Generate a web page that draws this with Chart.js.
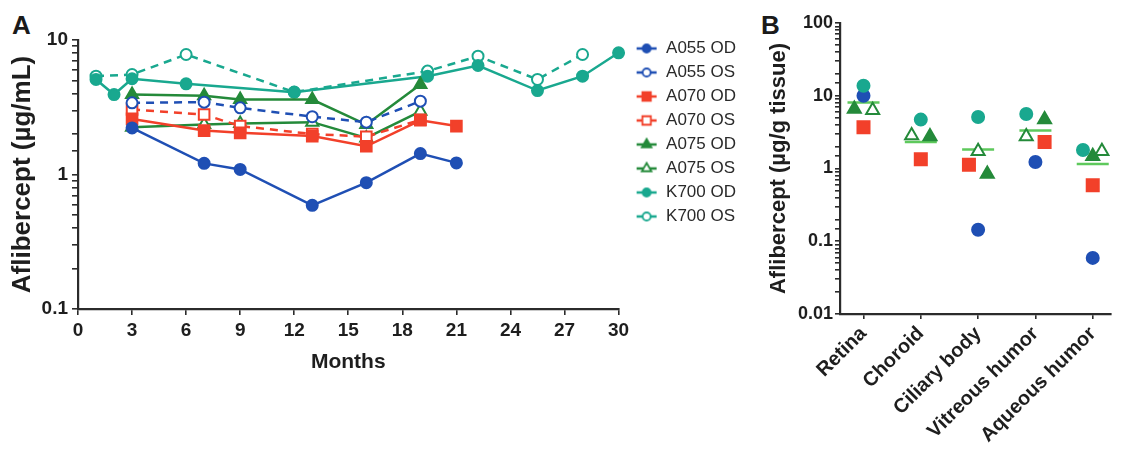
<!DOCTYPE html>
<html>
<head>
<meta charset="utf-8">
<title>Aflibercept</title>
<script src="https://cdn.jsdelivr.net/npm/chart.js@4.4.1/dist/chart.umd.min.js"></script>
<style>
    html, body { margin: 0; padding: 0; background: #fff; }
    body { position: relative; width: 1129px; height: 453px; overflow: hidden; font-family: 'Liberation Sans', Arial, sans-serif; }
    .panel-letter { position: absolute; top: 12px; font-size: 26px; font-weight: bold; color: #1a1a1a; line-height: 1; }
    canvas { position: absolute; top: 0; }
</style>
</head>
<body>
<div class="panel-letter" style="left: 12px;">A</div>
<div class="panel-letter" style="left: 761px;">B</div>
<canvas id="chart-a" width="760" height="453" style="left: 0;"></canvas>
<canvas id="chart-b" width="369" height="453" style="left: 760px;"></canvas>
<script>
// Panel A: aflibercept over time, per animal and eye
const a055OdMonths = [3, 7, 9, 13, 16, 19, 21];
const a055OdValues = [2.22, 1.21, 1.09, 0.59, 0.87, 1.43, 1.22];
const a055OsMonths = [3, 7, 9, 13, 16, 19];
const a055OsValues = [3.41, 3.45, 3.13, 2.69, 2.45, 3.51];

const a070OdMonths = [3, 7, 9, 13, 16, 19, 21];
const a070OdValues = [2.59, 2.12, 2.04, 1.93, 1.62, 2.53, 2.29];
const a070OsMonths = [3, 7, 9, 13, 16, 19];
const a070OsValues = [3.04, 2.79, 2.29, 2.0, 1.91, 2.55];

const a075OdMonths = [3, 7, 9, 13, 16, 19];
const a075OdValues = [3.93, 3.85, 3.61, 3.61, 2.35, 4.67];
const a075OsMonths = [3, 7, 9, 13, 16, 19];
const a075OsValues = [2.25, 2.35, 2.39, 2.45, 1.87, 2.95];

const k700OdMonths = [1, 2, 3, 6, 12, 19.4, 22.2, 25.5, 28, 30];
const k700OdValues = [5.09, 3.93, 5.15, 4.72, 4.09, 5.38, 6.46, 4.21, 5.38, 8.03];
const k700OsMonths = [1, 3, 6, 12, 19.4, 22.2, 25.5, 28];
const k700OsValues = [5.38, 5.54, 7.8, 4.1, 5.87, 7.58, 5.09, 7.8];

const monthTicks = [0, 3, 6, 9, 12, 15, 18, 21, 24, 27, 30];

// Panel B: tissue levels
const tissues = ['Retina', 'Choroid', 'Ciliary body', 'Vitreous humor', 'Aqueous humor'];
const k700Tissue = [13.7, 4.7, 5.1, 5.6, 1.8];
const a055Tissue = [10, null, 0.144, 1.23, 0.059];
const a070Tissue = [3.7, 1.34, 1.13, 2.31, 0.59];
const a075OdTissue = [6.6, 2.76, 0.84, 4.7, 1.47];
const a075OsTissue = [6.3, 2.85, 1.72, 2.76, 1.72];
const meanTissue = [8.1, 2.31, 1.82, 3.34, 1.15];

// horizontal spread of the dots inside a tissue column (category units)
const k700Spread = [0, 0, 0, -0.16, -0.17];
const a055Spread = [0, 0, 0, 0, 0];
const a070Spread = [0, 0, -0.16, 0.16, 0];
const a075OdSpread = [-0.16, 0.16, 0.16, 0.16, 0];
const a075OsSpread = [0.16, -0.16, 0, -0.16, 0.16];

const BLUE = '#1f4fb4';
const RED = '#f2402a';
const GREEN = '#248a3a';
const TEAL = '#19a88f';
const MEAN_GREEN = '#5ec95c';
const AXIS = '#2b2b2b';
const TEXT = '#1e1e1e';
const FONT = "'Liberation Sans', Arial, sans-serif";

const timelineSeries = [
    { label: 'A055 OD', months: a055OdMonths, values: a055OdValues, color: BLUE, shape: 'circle', open: false, dashed: false },
    { label: 'A055 OS', months: a055OsMonths, values: a055OsValues, color: BLUE, shape: 'circle', open: true, dashed: true },
    { label: 'A070 OD', months: a070OdMonths, values: a070OdValues, color: RED, shape: 'rect', open: false, dashed: false },
    { label: 'A070 OS', months: a070OsMonths, values: a070OsValues, color: RED, shape: 'rect', open: true, dashed: true },
    { label: 'A075 OD', months: a075OdMonths, values: a075OdValues, color: GREEN, shape: 'triangle', open: false, dashed: false },
    { label: 'A075 OS', months: a075OsMonths, values: a075OsValues, color: GREEN, shape: 'triangle', open: true, dashed: false },
    { label: 'K700 OD', months: k700OdMonths, values: k700OdValues, color: TEAL, shape: 'circle', open: false, dashed: false },
    { label: 'K700 OS', months: k700OsMonths, values: k700OsValues, color: TEAL, shape: 'circle', open: true, dashed: true }
];

function markerSize(shape) {
    switch (shape) {
        case 'rect':
            return 7.5;
        case 'triangle':
            return 7;
        default:
            return 5.5;
    }
}

function drawMarker(ctx, shape, r, x, y) {
    ctx.beginPath();
    if (shape === 'rect') {
        const h = r * Math.SQRT1_2;
        ctx.rect(x - h, y - h, 2 * h, 2 * h);
    } else if (shape === 'triangle') {
        ctx.moveTo(x, y - r);
        ctx.lineTo(x + r * 0.866, y + r / 2);
        ctx.lineTo(x - r * 0.866, y + r / 2);
        ctx.closePath();
    } else {
        ctx.arc(x, y, r, 0, Math.PI * 2);
    }
    ctx.fill();
    ctx.stroke();
}

// legend icon = short line with the marker on it
function makeLegendIcon(s) {
    const c = document.createElement('canvas');
    c.width = 22;
    c.height = 16;
    const ctx = c.getContext('2d');
    ctx.strokeStyle = s.color;
    ctx.lineWidth = 2.5;
    ctx.beginPath();
    ctx.moveTo(1, 8);
    ctx.lineTo(21, 8);
    ctx.stroke();
    ctx.fillStyle = s.open ? '#fff' : s.color;
    ctx.lineWidth = 1.8;
    drawMarker(ctx, s.shape, markerSize(s.shape) - 1.5, 11, 8);
    return c;
}

function decadeLabel(value) {
    const l = Math.log10(value);
    if (Math.abs(l - Math.round(l)) > 1e-6) {
        return '';
    }
    return String(+value.toPrecision(6));
}

function axisGrid(tickLength) {
    return {
        display: true,
        drawOnChartArea: false,
        drawTicks: true,
        tickLength: tickLength,
        color: AXIS,
        lineWidth: 1.6
    };
}

const legendIcons = timelineSeries.map(makeLegendIcon);

// move the legend box a bit right and up, as in the figure
const legendNudge = {
    id: 'legendNudge',
    afterLayout(chart) {
        const legend = chart.legend;
        legend.left += 10;
        legend.right += 10;
        legend.top -= 7;
        legend.bottom -= 7;
    }
};

new Chart(document.getElementById('chart-a'), {
    type: 'line',
    data: {
        datasets: timelineSeries.map(s => ({
            label: s.label,
            data: s.months.map((m, i) => ({ x: m, y: s.values[i] })),
            borderColor: s.color,
            backgroundColor: s.open ? '#fff' : s.color,
            borderWidth: 2.5,
            borderDash: s.dashed ? [8, 6] : [],
            pointStyle: s.shape,
            pointRadius: markerSize(s.shape),
            pointBorderWidth: 2,
            pointBackgroundColor: s.open ? '#fff' : s.color,
            pointBorderColor: s.color,
            tension: 0,
            clip: false
        }))
    },
    options: {
        responsive: false,
        animation: false,
        events: [],
        layout: { padding: { top: 40, left: 2, right: 24, bottom: 78 } },
        plugins: {
            legend: {
                position: 'right',
                align: 'start',
                labels: {
                    usePointStyle: true,
                    pointStyleWidth: 22,
                    padding: 7,
                    color: '#2a2a2a',
                    font: { family: FONT, size: 17 },
                    generateLabels: chart => Chart.defaults.plugins.legend.labels.generateLabels(chart)
                        .map((item, i) => ({ ...item, pointStyle: legendIcons[i] }))
                }
            },
            tooltip: { enabled: false }
        },
        scales: {
            x: {
                type: 'linear',
                min: 0,
                max: 30,
                afterBuildTicks: scale => { scale.ticks = monthTicks.map(v => ({ value: v })); },
                border: { color: AXIS, width: 2.2 },
                grid: axisGrid(6),
                ticks: { color: TEXT, padding: 4, maxRotation: 0, autoSkip: false, font: { family: FONT, size: 19, weight: 'bold' } },
                title: { display: true, text: 'Months', color: TEXT, padding: 0, font: { family: FONT, size: 21, weight: 'bold' } },
                afterFit: scale => { scale.height = 66; }
            },
            y: {
                type: 'logarithmic',
                min: 0.1,
                max: 10,
                border: { color: AXIS, width: 2.2 },
                grid: axisGrid(6),
                ticks: { color: TEXT, padding: 4, autoSkip: false, font: { family: FONT, size: 19, weight: 'bold' }, callback: decadeLabel },
                title: { display: true, text: 'Aflibercept (µg/mL)', color: TEXT, padding: { top: 5, bottom: 0 }, font: { family: FONT, size: 26, weight: 'bold' } },
                afterFit: scale => { scale.width = 76; }
            }
        }
    },
    plugins: [legendNudge]
});

function tissueDataset(values, spread, color, shape, open, radius) {
    return {
        data: values.map((v, i) => ({ x: i + spread[i], y: v })).filter(p => p.y !== null),
        pointStyle: shape,
        pointRadius: radius,
        pointBorderWidth: 2,
        pointBorderColor: color,
        pointBackgroundColor: open ? '#fff' : color,
        showLine: false
    };
}

new Chart(document.getElementById('chart-b'), {
    type: 'scatter',
    data: {
        datasets: [
            tissueDataset(k700Tissue, k700Spread, TEAL, 'circle', false, 6),
            tissueDataset(a055Tissue, a055Spread, BLUE, 'circle', false, 6),
            tissueDataset(a070Tissue, a070Spread, RED, 'rect', false, 8.5),
            tissueDataset(a075OdTissue, a075OdSpread, GREEN, 'triangle', false, 7.5),
            tissueDataset(a075OsTissue, a075OsSpread, GREEN, 'triangle', true, 7.5),
            {
                data: meanTissue.map((v, i) => ({ x: i, y: v })),
                pointStyle: 'line',
                pointRadius: 16,
                pointBorderWidth: 2.5,
                pointBorderColor: MEAN_GREEN,
                showLine: false
            }
        ]
    },
    options: {
        responsive: false,
        animation: false,
        events: [],
        layout: { padding: { top: 23, left: 2, right: 0, bottom: 0 } },
        plugins: {
            legend: { display: false },
            tooltip: { enabled: false }
        },
        scales: {
            x: {
                type: 'linear',
                min: -0.41,
                max: 4.31,
                afterBuildTicks: scale => { scale.ticks = tissues.map((t, i) => ({ value: i })); },
                border: { color: AXIS, width: 2.2 },
                grid: axisGrid(5),
                ticks: { color: TEXT, padding: 3, autoSkip: false, minRotation: 45, maxRotation: 45, font: { family: FONT, size: 20, weight: 'bold' }, callback: v => tissues[v] },
                afterFit: scale => { scale.height = 139; }
            },
            y: {
                type: 'logarithmic',
                min: 0.01,
                max: 100,
                border: { color: AXIS, width: 2.2 },
                grid: axisGrid(5),
                ticks: { color: TEXT, padding: 2, autoSkip: false, font: { family: FONT, size: 18, weight: 'bold' }, callback: decadeLabel },
                title: { display: true, text: 'Aflibercept (µg/g tissue)', color: TEXT, padding: { top: 4, bottom: 0 }, font: { family: FONT, size: 22, weight: 'bold' } },
                afterFit: scale => { scale.width = 78; }
            }
        }
    }
});
</script>
</body>
</html>
